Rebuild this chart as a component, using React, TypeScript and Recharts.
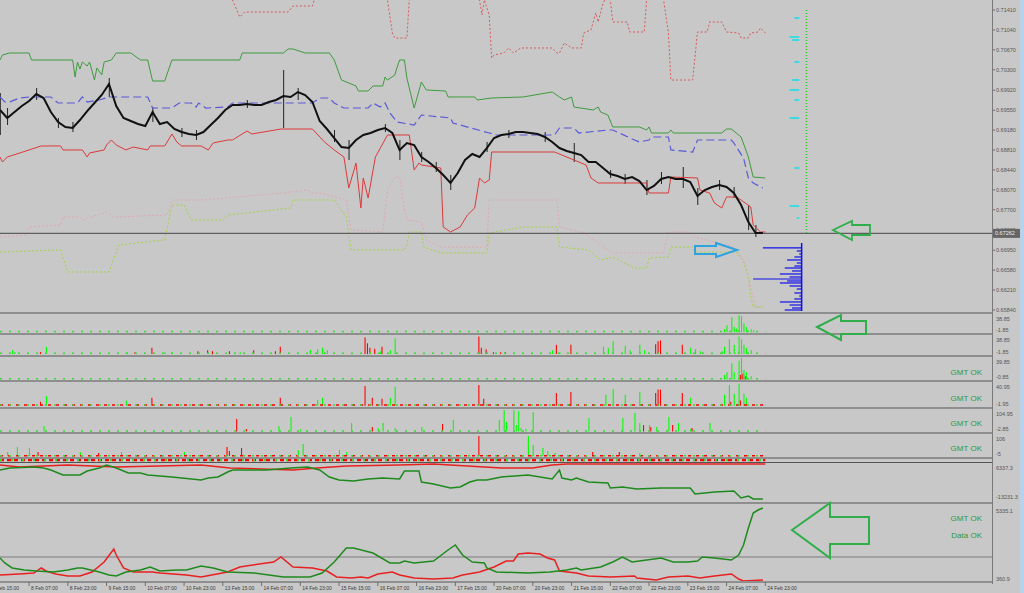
import React from "react";
import { ComposedChart, Line, Bar, XAxis, YAxis, ReferenceLine } from "recharts";

type Pair = [number, number];

const FONT = "'Liberation Sans', Arial, sans-serif";
const W = 1024;
const SPAN = 409.6; // hourly bars across the plot area
const BG = "#c8c8c8";
const LIME = "#00ff00";
const RED = "#ff0000";

// time axis, bar index (16 bars between labels)
const dateTicks = [-4, 12, 28, 44, 60, 76, 92, 108, 124, 140, 156, 172, 188, 204, 220, 236, 252, 268, 284, 300, 316];
const dateLabels = [
  "7 Feb 15:00", "8 Feb 07:00", "8 Feb 23:00", "9 Feb 15:00", "10 Feb 07:00", "10 Feb 23:00",
  "13 Feb 15:00", "14 Feb 07:00", "14 Feb 23:00", "15 Feb 15:00", "16 Feb 07:00", "16 Feb 23:00",
  "17 Feb 15:00", "20 Feb 07:00", "20 Feb 23:00", "21 Feb 15:00", "22 Feb 07:00", "22 Feb 23:00",
  "23 Feb 15:00", "24 Feb 07:00", "24 Feb 23:00",
];

// ---- main price panel ----
const priceTicks = [0.6584, 0.6621, 0.6658, 0.6695, 0.6733, 0.677, 0.6807, 0.6844, 0.6881, 0.6918, 0.6955, 0.6992, 0.703, 0.7067, 0.7104, 0.7141];
const lastPrice = 0.67262;
const closeStep = 3; // one close every 3 bars
const closes = [
  0.69553, 0.69404, 0.69516, 0.69627, 0.6972, 0.6985, 0.69776, 0.69516, 0.6933, 0.69237,
  0.69219, 0.69367, 0.69534, 0.69683, 0.69832, 0.70036, 0.69627, 0.69404, 0.69349, 0.69293,
  0.69256, 0.69516, 0.69293, 0.6933, 0.692, 0.69144, 0.69107, 0.69089, 0.69144, 0.69274,
  0.69404, 0.69553, 0.69646, 0.69646, 0.69664, 0.69646, 0.69646, 0.69702, 0.69739, 0.69813,
  0.69794, 0.69887, 0.69832, 0.69702, 0.69349, 0.692, 0.69033, 0.68866, 0.68847, 0.68996,
  0.69089, 0.69126, 0.69182, 0.69219, 0.69126, 0.6881, 0.6894, 0.68903, 0.6868, 0.68587,
  0.68476, 0.68346, 0.68197, 0.68383, 0.68625, 0.68736, 0.6868, 0.68847, 0.69033, 0.69089,
  0.69107, 0.69144, 0.69144, 0.69126, 0.69107, 0.69052, 0.68959, 0.68847, 0.68792, 0.68754,
  0.68717, 0.68587, 0.68587, 0.68476, 0.68364, 0.68327, 0.68272, 0.68309, 0.68234, 0.68067,
  0.68142, 0.68272, 0.68309, 0.68272, 0.68272, 0.68216, 0.67956, 0.68067, 0.68123, 0.6816,
  0.68123, 0.68012, 0.67789, 0.67473, 0.67269, 0.67269,
];
// [close index, high, low]
const wicks: [number, number, number][] = [
  [0, 0.69869, 0.69089], [1, 0.6959, 0.69275], [5, 0.69962, 0.69739], [8, 0.69405, 0.69219],
  [10, 0.69331, 0.69145], [15, 0.70148, 0.69795], [21, 0.69609, 0.69331], [25, 0.69219, 0.69052],
  [27, 0.69182, 0.68996], [34, 0.69739, 0.6959], [39, 0.70296, 0.69219], [41, 0.69962, 0.69739],
  [46, 0.69182, 0.68959], [48, 0.68996, 0.68625], [53, 0.69293, 0.69145], [55, 0.68996, 0.68625],
  [58, 0.68773, 0.68588], [60, 0.68588, 0.68402], [62, 0.68346, 0.68068], [67, 0.68959, 0.68773],
  [70, 0.69182, 0.69033], [75, 0.69145, 0.68959], [79, 0.68941, 0.68588], [84, 0.68439, 0.68291],
  [86, 0.68365, 0.68179], [89, 0.68253, 0.67975], [91, 0.68402, 0.68179], [94, 0.68495, 0.68105],
  [96, 0.68105, 0.67789], [99, 0.68253, 0.68068], [101, 0.68123, 0.67919], [103, 0.67789, 0.67325],
  [104, 0.67418, 0.67195],
];
// [bar, price]
const greenBand: Pair[] = [
  [0, 0.70482], [1, 0.70575], [4, 0.70612], [12, 0.70612], [13, 0.70482], [30, 0.70482], [31, 0.70166],
  [32, 0.70445], [33, 0.70315], [34, 0.70445], [36, 0.7037], [37, 0.70445], [39, 0.7011], [40, 0.70333],
  [42, 0.70203], [43, 0.70445], [46, 0.70482], [48, 0.70612], [54, 0.70612], [58, 0.70482], [61, 0.70482],
  [63, 0.70092], [68, 0.70092], [71, 0.70482], [99, 0.70482], [100, 0.70612], [117, 0.70612], [119, 0.70686],
  [121, 0.70686], [126, 0.70612], [136, 0.70612], [138, 0.70482], [141, 0.7011], [147, 0.69999], [148, 0.69906],
  [152, 0.69906], [154, 0.69999], [158, 0.69999], [159, 0.70166], [160, 0.7011], [163, 0.70203], [164, 0.70352],
  [165, 0.70482], [167, 0.70482], [168, 0.70148], [171, 0.6959], [174, 0.70073], [176, 0.69925], [184, 0.69906],
  [185, 0.69795], [196, 0.69795], [197, 0.69739], [203, 0.69776], [216, 0.69795], [228, 0.69888], [231, 0.69795],
  [233, 0.69739], [236, 0.69795], [237, 0.69609], [245, 0.69553], [247, 0.69609], [248, 0.69516], [251, 0.6946],
  [253, 0.69238], [264, 0.69238], [267, 0.69182], [268, 0.69238], [269, 0.69126], [276, 0.69126], [277, 0.69182],
  [278, 0.69126], [298, 0.69126], [300, 0.692], [302, 0.692], [306, 0.69052], [309, 0.68681], [311, 0.68309],
  [316, 0.68291],
];
const blueDash: Pair[] = [
  [0, 0.69795], [2, 0.69702], [4, 0.69702], [8, 0.69776], [12, 0.69795], [21, 0.69795], [24, 0.69683],
  [32, 0.69683], [34, 0.69795], [36, 0.69702], [41, 0.69739], [45, 0.69795], [61, 0.69795], [63, 0.6959],
  [71, 0.6959], [74, 0.69683], [79, 0.69683], [81, 0.69609], [82, 0.69683], [85, 0.6959], [94, 0.69609],
  [96, 0.69683], [129, 0.69683], [132, 0.69776], [136, 0.69776], [138, 0.69683], [142, 0.6959], [152, 0.6959],
  [154, 0.69683], [157, 0.69609], [159, 0.69683], [161, 0.69498], [164, 0.6933], [171, 0.69275], [174, 0.6946],
  [186, 0.69405], [187, 0.69312], [202, 0.69126], [205, 0.69089], [229, 0.69089], [231, 0.69219], [237, 0.69219],
  [239, 0.69126], [251, 0.69182], [253, 0.69182], [262, 0.68996], [264, 0.68959], [268, 0.68996], [269, 0.69052],
  [276, 0.69052], [277, 0.68811], [286, 0.68773], [288, 0.68996], [302, 0.68996], [303, 0.68941], [307, 0.68662],
  [309, 0.68291], [311, 0.68198], [315, 0.68105],
];
const redLine: Pair[] = [
  [0, 0.68681], [1, 0.68588], [3, 0.68681], [12, 0.68811], [17, 0.68885], [25, 0.68885], [26, 0.68811],
  [28, 0.68811], [34, 0.68811], [36, 0.68681], [37, 0.68755], [43, 0.68811], [44, 0.68903], [46, 0.68996],
  [48, 0.68903], [52, 0.68811], [55, 0.68866], [61, 0.68811], [62, 0.68885], [68, 0.68885], [71, 0.69108],
  [73, 0.68959], [75, 0.68885], [83, 0.68885], [86, 0.68811], [88, 0.68941], [94, 0.68996], [96, 0.68996],
  [102, 0.69163], [104, 0.69108], [116, 0.692], [129, 0.692], [134, 0.68959], [138, 0.68811], [142, 0.68681],
  [144, 0.68105], [147, 0.68569], [149, 0.67733], [150, 0.68291], [152, 0.67919], [155, 0.68681], [160, 0.69089],
  [169, 0.69089], [171, 0.68439], [173, 0.68569], [174, 0.68532], [182, 0.68476], [183, 0.67381], [186, 0.67288],
  [190, 0.67381], [193, 0.67603], [196, 0.67733], [198, 0.68291], [200, 0.68198], [202, 0.68253], [203, 0.68773],
  [229, 0.68773], [242, 0.68532], [244, 0.68291], [247, 0.68198], [267, 0.68198], [268, 0.68012], [276, 0.68012],
  [277, 0.68309], [288, 0.68291], [289, 0.68068], [293, 0.68012], [295, 0.67826], [298, 0.67733], [300, 0.67938],
  [304, 0.67938], [306, 0.67882], [310, 0.67752], [311, 0.67418], [314, 0.67288], [316, 0.67288],
];
const pinkDots: Pair[] = [
  [0, 0.67195], [11, 0.67232], [12, 0.67381], [25, 0.67418], [26, 0.67566], [33, 0.67566], [34, 0.67511],
  [44, 0.67659], [47, 0.67566], [69, 0.67603], [71, 0.67882], [83, 0.67882], [117, 0.68012], [127, 0.68068],
  [129, 0.68012], [132, 0.68012], [143, 0.67882], [145, 0.67325], [158, 0.67288], [160, 0.68068], [163, 0.68309],
  [165, 0.68309], [167, 0.67696], [168, 0.67511], [174, 0.67473], [176, 0.67139], [182, 0.67009], [201, 0.67009],
  [202, 0.67882], [230, 0.67882], [231, 0.67381], [241, 0.67269], [253, 0.66898], [274, 0.66898], [276, 0.67288],
  [285, 0.67288], [287, 0.67195], [303, 0.67009], [307, 0.66768], [309, 0.66452], [312, 0.65895], [315, 0.65895],
];
const limeDots: Pair[] = [
  [0, 0.66916], [25, 0.66954], [28, 0.66545], [45, 0.66545], [49, 0.67046], [68, 0.67139], [71, 0.67789],
  [76, 0.67789], [79, 0.67511], [92, 0.67511], [94, 0.67603], [120, 0.67733], [121, 0.67882], [138, 0.67882],
  [143, 0.67566], [145, 0.66954], [167, 0.66954], [168, 0.67046], [169, 0.67288], [174, 0.67288], [175, 0.67009],
  [182, 0.66898], [201, 0.66898], [202, 0.67269], [216, 0.67381], [230, 0.67381], [231, 0.67009], [243, 0.66954],
  [248, 0.66768], [253, 0.66824], [262, 0.66619], [267, 0.66619], [268, 0.66805], [276, 0.66824], [277, 0.67009],
  [286, 0.67009], [287, 0.66916], [304, 0.66916], [307, 0.66731], [309, 0.66452], [310, 0.66081], [311, 0.65895],
  [315, 0.65895],
];
const redDots: Pair[] = [
  [93, 0.71782], [96, 0.71596], [99, 0.7128], [101, 0.71373], [119, 0.71373], [121, 0.71485], [129, 0.71485],
  [131, 0.71782], [159, 0.71782], [160, 0.71596], [162, 0.70983], [163, 0.7089], [168, 0.7089], [169, 0.71596],
  [170, 0.71782], [196, 0.71782], [198, 0.71596], [199, 0.71317], [200, 0.71596], [202, 0.71317], [203, 0.70519],
  [204, 0.70575], [208, 0.70612], [210, 0.70705], [212, 0.70612], [215, 0.70705], [228, 0.70705], [230, 0.70612],
  [231, 0.70612], [233, 0.70798], [236, 0.70705], [240, 0.70705], [241, 0.70983], [244, 0.71039], [246, 0.71355],
  [247, 0.71188], [249, 0.7154], [251, 0.71689], [252, 0.71596], [253, 0.71188], [259, 0.71188], [260, 0.71002],
  [266, 0.71002], [267, 0.71596], [269, 0.71782], [273, 0.71782], [274, 0.71596], [276, 0.70983], [277, 0.7011],
  [286, 0.7011], [288, 0.71002], [292, 0.71002], [293, 0.71188], [298, 0.71188], [300, 0.71002], [305, 0.70983],
  [306, 0.7089], [309, 0.7089], [310, 0.70983], [313, 0.71002], [314, 0.71076], [316, 0.70983],
];
// volume profile at the right: [price, left bar], all ending at bar 331
const profileEnd = 331;
const profile: Pair[] = [
  [0.66991, 315], [0.66935, 329], [0.66879, 330], [0.66824, 328], [0.66768, 325], [0.66712, 329], [0.66656, 328],
  [0.66619, 324], [0.66564, 327], [0.66508, 322], [0.66452, 326], [0.66415, 311], [0.66378, 325], [0.66341, 322],
  [0.66285, 326], [0.66229, 329], [0.66155, 328], [0.66099, 330], [0.66044, 328], [0.65988, 322], [0.65932, 326],
  [0.65876, 327], [0.65839, 324],
];
const cyanEnd = 330;
const cyanMarks: Pair[] = [
  [0.71262, 328], [0.70909, 326], [0.70853, 327], [0.70445, 328], [0.7011, 327], [0.69925, 326],
  [0.69739, 328], [0.69405, 326], [0.68476, 328], [0.67771, 326], [0.67548, 329],
];
const tickLineBar = 333;

// ---- histogram sub-panels: [bar, value] ----
const histA = {
  green: [[299, 6], [300, 15], [302, 32], [303, 11], [304, 8], [305, 36], [306, 34], [307, 19], [308, 11], [310, 6], [311, 4]] as Pair[],
  red: [] as Pair[],
};
const histB = {
  green: [[5, 8], [6, 4], [19, 15], [52, 4], [68, 4], [71, 4], [99, 4], [128, 9], [131, 10], [133, 13], [135, 8], [157, 6],
    [161, 8], [163, 32], [228, 8], [231, 4], [249, 15], [251, 12], [253, 26], [258, 17], [260, 8], [264, 19], [266, 8],
    [285, 13], [287, 10], [289, 6], [298, 6], [299, 15], [301, 30], [303, 19], [305, 36], [306, 30], [307, 19], [308, 13], [310, 8]] as Pair[],
  red: [[17, 4], [56, 4], [63, 13], [82, 6], [86, 8], [88, 6], [95, 6], [105, 8], [114, 6], [116, 15], [151, 34], [152, 22],
    [153, 13], [155, 11], [158, 15], [198, 36], [199, 13], [201, 10], [204, 4], [207, 4], [209, 4], [230, 19], [236, 19],
    [271, 20], [272, 26], [273, 28], [282, 19]] as Pair[],
};
const histC = {
  green: [[299, 8], [300, 13], [302, 29], [303, 13], [305, 33], [306, 38], [307, 17], [308, 13], [310, 6]] as Pair[],
  red: [[306, 8], [307, 10], [308, 6]] as Pair[],
};
const histD = {
  green: [[19, 17], [52, 9], [131, 10], [133, 14], [161, 14], [163, 33], [250, 19], [253, 29], [258, 19], [264, 24],
    [285, 14], [299, 19], [301, 36], [303, 21], [305, 38], [307, 21], [308, 14]] as Pair[],
  red: [[17, 7], [63, 14], [116, 14], [151, 34], [154, 14], [158, 12], [198, 36], [200, 12], [230, 22], [236, 24],
    [271, 22], [272, 28], [273, 28], [282, 22], [302, 7], [306, 9]] as Pair[],
};
const histE = {
  green: [[18, 25], [115, 25], [120, 68], [124, 11], [145, 39], [156, 16], [158, 39], [163, 16], [174, 21], [187, 53],
    [206, 53], [208, 100], [209, 44], [212, 100], [213, 30], [214, 96], [215, 16], [217, 11], [220, 91], [243, 63],
    [257, 63], [262, 86], [264, 39], [268, 30], [271, 21], [276, 68], [280, 39], [285, 11], [293, 39]] as Pair[],
  red: [[98, 58], [102, 11], [154, 21], [183, 35], [266, 30], [269, 21], [278, 30], [286, 16]] as Pair[],
};
const histF = {
  green: [[3, 19], [7, 43], [12, 38], [33, 19], [50, 19], [76, 19], [123, 29], [125, 58], [140, 29], [143, 19],
    [218, 96], [220, 53], [224, 38], [226, 24], [229, 14], [264, 14]] as Pair[],
  red: [[16, 19], [41, 14], [94, 43], [95, 24], [100, 38], [198, 96], [245, 19], [256, 19]] as Pair[],
};
const lowFloor: Pair[] = [[0, 1.5], [316, 1.5]];

// ---- balance-style panels ----
const panelHGreen: Pair[] = [
  [0, 2635], [4, 3693], [14, 4222], [18, 3693], [21, 2635], [26, -10], [33, -10], [36, 2106], [41, 3693], [44, 5279],
  [48, 3693], [53, 1048], [58, 1048], [61, -10], [66, -539], [71, -1068], [83, -2654], [86, -1597], [90, -1068],
  [94, 1577], [96, 2635], [110, 2635], [120, 3693], [127, 4222], [132, 2635], [136, -1068], [140, -2654], [146, -3183],
  [152, -2125], [158, -1597], [165, -2125], [167, 2106], [173, 2106], [174, -3712], [179, -4770], [186, -6885],
  [190, -6356], [194, -3712], [197, -2654], [201, -2654], [207, -1068], [218, -10], [228, -2125], [231, 2635],
  [232, -1597], [236, -2654], [238, -1597], [243, -3712], [251, -4241], [252, -6885], [257, -6356], [263, -7414],
  [273, -6885], [285, -6885], [287, -10059], [295, -9001], [303, -8472], [306, -12174], [309, -11117], [311, -12703],
  [315, -12703],
];
const panelHRed: Pair[] = [
  [0, 5279], [8, 4222], [28, 5279], [48, 4222], [83, 5279], [95, 3693], [121, 2635], [131, 3693], [143, 4751],
  [165, 5279], [179, 5808], [207, 3693], [220, 3693], [228, 5279], [234, 5808], [316, 5808],
];
const panelIGreen: Pair[] = [
  [0, 1932], [2, 1605], [5, 1278], [10, 1147], [15, 1081], [22, 1016], [28, 1147], [32, 1278], [34, 1278], [41, 1016],
  [45, 819], [48, 754], [52, 1016], [58, 1147], [62, 1343], [66, 1081], [73, 1147], [77, 1147], [83, 1408], [88, 1278],
  [94, 1016], [105, 950], [117, 688], [128, 688], [133, 950], [138, 1670], [143, 2586], [146, 2586], [154, 2259],
  [161, 1605], [165, 1605], [167, 1736], [171, 1605], [179, 1736], [185, 2455], [188, 2783], [191, 2128], [195, 1670],
  [200, 1605], [201, 1278], [205, 1016], [218, 950], [227, 1016], [234, 1147], [238, 1278], [240, 1147], [248, 1343],
  [253, 1670], [257, 1997], [261, 1670], [267, 1801], [273, 1932], [278, 1670], [284, 1670], [288, 1736], [290, 1997],
  [295, 1932], [302, 1801], [305, 2128], [307, 2783], [309, 3895], [311, 4877], [313, 5073], [315, 5204],
];
const panelIRed: Pair[] = [
  [0, 819], [8, 885], [14, 950], [17, 1278], [19, 1081], [23, 885], [28, 754], [33, 754], [38, 1016], [43, 1670],
  [47, 2521], [48, 2128], [51, 1278], [55, 1016], [63, 1016], [66, 950], [77, 819], [83, 688], [94, 1016], [99, 1343],
  [110, 1605], [113, 1670], [116, 1997], [121, 1343], [129, 1278], [135, 1081], [139, 688], [145, 623], [149, 688],
  [152, 623], [156, 885], [162, 1016], [165, 819], [171, 623], [179, 557], [187, 623], [191, 819], [198, 1016],
  [204, 1343], [209, 1736], [212, 1736], [214, 2194], [218, 2259], [223, 2194], [226, 1932], [229, 1801], [231, 1081],
  [238, 950], [243, 754], [252, 688], [262, 754], [263, 623], [271, 492], [276, 688], [284, 754], [289, 623], [295, 754],
  [302, 885], [305, 557], [307, 426], [315, 492],
];
const panelILevel = 1997;

const pts = (arr: Pair[]) => arr.map(([x, y]) => ({ x, y }));

const priceRows = closes.map((c, i) => {
  const w = wicks.find((k) => k[0] === i);
  return { x: i * closeStep, close: c, wick: w ? [w[2], w[1]] : undefined };
});

function mergeRows(green: Pair[], red: Pair[]) {
  const m = new Map<number, any>();
  green.forEach(([x, v]) => m.set(x, { ...(m.get(x) || { x }), g: v }));
  red.forEach(([x, v]) => m.set(x, { ...(m.get(x) || { x }), r: v }));
  return Array.from(m.values()).sort((a, b) => a.x - b.x);
}

const PriceTick = (p: any) => {
  const v = p.payload.value;
  if (v === lastPrice) {
    return (
      <g>
        <rect x={p.x - 3} y={p.y - 4.5} width={28} height={9} fill="#666" />
        <text x={p.x - 1} y={p.y + 2} fontSize={5.5} fill="#eee" fontFamily={FONT}>{v.toFixed(5)}</text>
      </g>
    );
  }
  return <text x={p.x} y={p.y + 2} fontSize={5.5} fill="#555" fontFamily={FONT}>{v.toFixed(5)}</text>;
};

const edgeTick = (hi: number, labels: string[]) => (p: any) => {
  const top = p.payload.value === hi;
  return (
    <text x={p.x + 2} y={top ? p.y + 7 : p.y - 1} fontSize={5.5} fill="#555" fontFamily={FONT}>
      {top ? labels[0] : labels[1]}
    </text>
  );
};

const DateTick = (p: any) => {
  const i = dateTicks.indexOf(p.payload.value);
  return <text x={p.x + 2} y={p.y + 3} fontSize={5} fill="#3a3a3a" fontFamily={FONT}>{dateLabels[i]}</text>;
};

const xAxisHidden = <XAxis type="number" dataKey="x" domain={[0, SPAN]} hide allowDataOverflow />;

const lineProps = { dot: false, activeDot: false, isAnimationActive: false, type: "linear" as const, dataKey: "y" };

const HistPanel = ({ top, height, domain, labels, data, redFloor }: any) => (
  <div style={{ position: "absolute", left: 0, top }}>
    <ComposedChart width={W} height={height} data={mergeRows(data.green, data.red)} margin={{ top: 0, right: 0, bottom: 0, left: 0 }} barGap={0}>
      {xAxisHidden}
      <YAxis orientation="right" width={32} domain={domain} ticks={[domain[1], domain[0]]} interval={0}
        allowDataOverflow axisLine={false} tickLine={false} tickSize={0} tick={edgeTick(domain[1], labels)} />
      {redFloor && <Line {...lineProps} data={pts(lowFloor)} stroke={RED} strokeWidth={1.5} strokeDasharray="3 5" />}
      <Line {...lineProps} data={pts(lowFloor)} stroke="#33dd33" strokeWidth={1.5} strokeDasharray="2 7" />
      <Bar dataKey="r" fill={RED} barSize={2} isAnimationActive={false} />
      <Bar dataKey="g" fill={LIME} barSize={2} isAnimationActive={false} />
    </ComposedChart>
  </div>
);

export default function App() {
  const seps = [312, 333, 355, 380, 407, 432, 457, 502];
  return (
    <div style={{ position: "absolute", left: 0, top: 0, width: W, height: 593, background: BG, overflow: "hidden", fontFamily: FONT }}>
      {/* main price panel */}
      <div style={{ position: "absolute", left: 0, top: 0 }}>
        <ComposedChart width={W} height={312} data={priceRows} margin={{ top: 0, right: 0, bottom: 0, left: 0 }}>
          {xAxisHidden}
          <YAxis orientation="right" width={32} domain={[0.65802, 0.71596]} allowDataOverflow
            ticks={[...priceTicks, lastPrice]} interval={0} axisLine={false}
            tickLine={{ stroke: "#666" }} tickSize={3} tickMargin={1} tick={PriceTick} />
          <Line {...lineProps} data={pts(redDots)} stroke="#d85a5a" strokeWidth={1} strokeDasharray="2 2" />
          <Line {...lineProps} data={pts(pinkDots)} stroke="#e2a7b0" strokeWidth={1} strokeDasharray="2 2" />
          <Line {...lineProps} data={pts(limeDots)} stroke="#a2d444" strokeWidth={1} strokeDasharray="2 2" />
          <Line {...lineProps} data={pts(greenBand)} stroke="#3f9b3f" strokeWidth={1} />
          <Line {...lineProps} data={pts(blueDash)} stroke="#5a5ad8" strokeWidth={1.2} strokeDasharray="8 4" />
          <Line {...lineProps} data={pts(redLine)} stroke="#dc3a3a" strokeWidth={1} />
          <ReferenceLine y={lastPrice} stroke="#5e5e5e" strokeWidth={1.3} />
          {profile.map(([p, left], i) => (
            <ReferenceLine key={"p" + i} segment={[{ x: left, y: p }, { x: profileEnd, y: p }]} stroke="#1010e8" strokeWidth={1.2} />
          ))}
          <ReferenceLine segment={[{ x: profileEnd, y: 0.67084 }, { x: profileEnd, y: 0.65821 }]} stroke="#1010e8" strokeWidth={1.5} />
          <ReferenceLine segment={[{ x: tickLineBar, y: 0.7141 }, { x: tickLineBar, y: lastPrice }]} stroke="#22cc22" strokeWidth={1.5} strokeDasharray="1 2" />
          {cyanMarks.map(([p, left], i) => (
            <ReferenceLine key={"c" + i} segment={[{ x: left, y: p }, { x: cyanEnd, y: p }]} stroke="#10e0e8" strokeWidth={1.5} />
          ))}
          <Bar dataKey="wick" fill="#222" barSize={1} isAnimationActive={false} />
          <Line dataKey="close" stroke="#111" strokeWidth={2} dot={false} activeDot={false} isAnimationActive={false} type="linear" />
        </ComposedChart>
      </div>

      <HistPanel top={314} height={19} domain={[-1.85, 38.85]} labels={["38.85", "-1.85"]} data={histA} />
      <HistPanel top={335} height={20} domain={[-1.85, 38.85]} labels={["38.85", "-1.85"]} data={histB} />
      <HistPanel top={357} height={23} domain={[-0.85, 39.85]} labels={["39.85", "-0.85"]} data={histC} />
      <HistPanel top={382} height={25} domain={[-1.95, 40.95]} labels={["40.95", "-1.95"]} data={histD} redFloor />
      <HistPanel top={409} height={23} domain={[-2.85, 104.95]} labels={["104.95", "-2.85"]} data={histE} />
      <HistPanel top={434} height={23} domain={[-5, 106]} labels={["106", "-5"]} data={histF} redFloor />

      {/* thin strip panel */}
      <div style={{ position: "absolute", left: 0, top: 459 }}>
        <ComposedChart width={W} height={3} margin={{ top: 0, right: 32, bottom: 0, left: 0 }}>
          {xAxisHidden}
          <YAxis hide domain={[0, 2]} />
          <Line {...lineProps} data={pts(lowFloor)} stroke={RED} strokeWidth={3} strokeDasharray="4 3" />
          <Line {...lineProps} data={pts(lowFloor)} stroke="#33dd33" strokeWidth={3} strokeDasharray="2 9" />
        </ComposedChart>
      </div>

      {/* panel H */}
      <div style={{ position: "absolute", left: 0, top: 463 }}>
        <ComposedChart width={W} height={39} margin={{ top: 0, right: 0, bottom: 2, left: 0 }}>
          {xAxisHidden}
          <YAxis orientation="right" width={32} domain={[-13231.3, 6337.3]} ticks={[6337.3, -13231.3]} interval={0}
            allowDataOverflow axisLine={false} tickLine={false} tickSize={0} tick={edgeTick(6337.3, ["6337.3", "-13231.3"])} />
          <Line {...lineProps} data={pts(panelHRed)} stroke="#e82020" strokeWidth={1.5} />
          <Line {...lineProps} data={pts(panelHGreen)} stroke="#1e8a1e" strokeWidth={1.5} />
        </ComposedChart>
      </div>

      {/* panel I with the time axis */}
      <div style={{ position: "absolute", left: 0, top: 504 }}>
        <ComposedChart width={W} height={89} margin={{ top: 2, right: 0, bottom: 0, left: 0 }}>
          <XAxis type="number" dataKey="x" domain={[0, SPAN]} allowDataOverflow ticks={dateTicks} interval={0}
            tick={DateTick} tickSize={4} tickMargin={1} tickLine={{ stroke: "#6e6e6e" }}
            axisLine={{ stroke: "#8f8f8f", strokeWidth: 2 }} height={11} />
          <YAxis orientation="right" width={32} domain={[360.9, 5335.1]} ticks={[5335.1, 360.9]} interval={0}
            allowDataOverflow axisLine={false} tickLine={false} tickSize={0} tick={edgeTick(5335.1, ["5335.1", "360.9"])} />
          <ReferenceLine y={panelILevel} stroke="#7a7a7a" strokeWidth={1} />
          <Line {...lineProps} data={pts(panelIRed)} stroke="#e82020" strokeWidth={1.5} />
          <Line {...lineProps} data={pts(panelIGreen)} stroke="#1e8a1e" strokeWidth={1.5} />
        </ComposedChart>
      </div>

      {/* panel separators and frame */}
      {seps.map((y) => (
        <div key={y} style={{ position: "absolute", left: 0, top: y, width: 992, height: 2, background: "#8e8e8e" }} />
      ))}
      <div style={{ position: "absolute", left: 0, top: 462, width: 992, height: 1, background: "#555" }} />
      <div style={{ position: "absolute", left: 992, top: 0, width: 1, height: 584, background: "#7a7a7a" }} />
      <div style={{ position: "absolute", left: 1020, top: 0, width: 4, height: 593, background: "#b8d2ec" }} />

      {/* hand-drawn annotations and status labels */}
      <svg width={W} height={593} style={{ position: "absolute", left: 0, top: 0, pointerEvents: "none" }}>
        <g fill="none" strokeLinejoin="miter">
          <polygon points="833,230 852,221 852,225 870,225 870,235 852,235 852,240" stroke="#2fae4a" strokeWidth={1.8} />
          <polygon points="695,246 716,246 716,243 737,250 716,257 716,254 695,254" stroke="#2ea3e0" strokeWidth={2} />
          <polygon points="817,327 841,315 841,321 866,321 866,334 841,334 841,340" stroke="#2fae4a" strokeWidth={2} />
          <polygon points="792,530 830,503 830,517 869,517 869,544 830,544 830,558" stroke="#2fae4a" strokeWidth={2} />
        </g>
        <g fill="#2e9a3a" fontSize={8} fontFamily={FONT} textAnchor="end">
          <text x={982} y={375}>GMT OK</text>
          <text x={982} y={401}>GMT OK</text>
          <text x={982} y={426}>GMT OK</text>
          <text x={982} y={451}>GMT OK</text>
          <text x={982} y={521}>GMT OK</text>
          <text x={982} y={538}>Data OK</text>
        </g>
      </svg>
    </div>
  );
}
